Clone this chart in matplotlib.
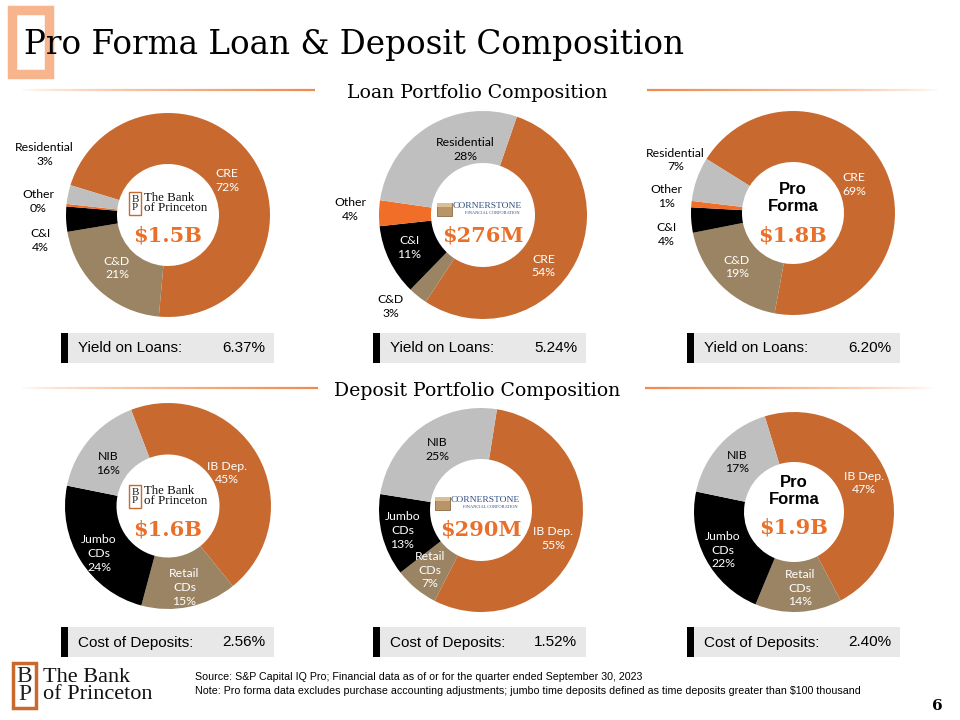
"""
Pro Forma Loan & Deposit Composition - slide recreation
Six donut charts (loans / deposits for Princeton, Cornerstone, Pro Forma)
"""

import matplotlib
matplotlib.use("Agg")
import matplotlib.pyplot as plt
import numpy as np
from matplotlib.collections import LineCollection
from matplotlib.colors import to_rgb
from matplotlib.patches import Rectangle

W, H = 960, 720

ORANGE = "#C86A30"
BRIGHT = "#F06E28"
TAN = "#9B8464"
BLACK = "#000000"
GREY = "#BFBFBF"
VALUE_ORANGE = "#E8702A"
LINE_ORANGE = "#F08A4B"
NAVY = "#2F4F7F"

# ---------------------------------------------------------------- data
loan_categories = ["CRE", "C&D", "C&I", "Other", "Residential"]
loan_colors = [ORANGE, TAN, BLACK, BRIGHT, GREY]
loans_princeton = [72, 21, 4, 0.4, 3]
loans_cornerstone = [54, 3, 11, 4, 28]
loans_pro_forma = [69, 19, 4, 1, 7]

deposit_categories = ["IB Dep.", "Retail\nCDs", "Jumbo\nCDs", "NIB"]
deposit_colors = [ORANGE, TAN, BLACK, GREY]
deposits_princeton = [45, 15, 24, 16]
deposits_cornerstone = [55, 7, 13, 25]
deposits_pro_forma = [47, 14, 22, 17]

loan_totals = ["$1.5B", "$276M", "$1.8B"]
deposit_totals = ["$1.6B", "$290M", "$1.9B"]
yield_on_loans = ["6.37%", "5.24%", "6.20%"]
cost_of_deposits = ["2.56%", "1.52%", "2.40%"]

# ---------------------------------------------------------------- layout
LOAN_LAYOUT = [
    dict(center=(168, 215), r=102, start=163, value_y=236, logo="princeton",
         labels=[(0.58, 0.34), (-0.50, -0.52), (-1.25, -0.25), (-1.27, 0.13), (-1.21, 0.59)]),
    dict(center=(483, 215), r=104, start=71, value_y=236, logo="cornerstone",
         labels=[(0.58, -0.49), (-0.89, -0.88), (-0.71, -0.31), (-1.28, 0.05), (-0.17, 0.63)]),
    dict(center=(793, 213), r=102, start=148, value_y=235, logo="proforma",
         labels=[(0.60, 0.28), (-0.55, -0.53), (-1.24, -0.21), (-1.24, 0.16), (-1.15, 0.52)]),
]
DEPOSIT_LAYOUT = [
    dict(center=(168, 506), r=103, start=111, value_y=529, logo="princeton",
         labels=[(0.57, 0.32), (0.16, -0.79), (-0.67, -0.46), (-0.58, 0.41)]),
    dict(center=(481, 510), r=102, start=81, value_y=530, logo="cornerstone",
         labels=[(0.71, -0.28), (-0.50, -0.59), (-0.77, -0.20), (-0.43, 0.59)]),
    dict(center=(794, 512), r=100, start=107, value_y=528, logo="proforma",
         labels=[(0.70, 0.29), (0.06, -0.76), (-0.71, -0.38), (-0.57, 0.50)]),
]
BOX_X = [61, 373, 687]
BOX_W = 213
LABEL_FONT = "Lato"
SERIF = "DejaVu Serif"
TIMES = "Liberation Serif"
SANS = "Liberation Sans"
NARROW = ["Liberation Sans Narrow", "Liberation Sans"]


def donut(fig, values, colors, categories, lay):
    cx, cy = lay["center"]
    r = lay["r"]
    ax = fig.add_axes([(cx - r) / W, 1 - (cy + r) / H, 2 * r / W, 2 * r / H])
    ax.pie(values, colors=colors, startangle=lay["start"], counterclock=False,
           radius=1, wedgeprops=dict(width=0.5, linewidth=0))
    ax.set_xlim(-1, 1)
    ax.set_ylim(-1, 1)
    for cat, val, col, (lx, ly) in zip(categories, values, colors, lay["labels"]):
        outside = np.hypot(lx, ly) > 1
        tc = "black" if (outside or col == GREY) else "white"
        ax.text(lx, ly, f"{cat}\n{round(val)}%", ha="center", va="center",
                color=tc, fontsize=8.8, family=LABEL_FONT, linespacing=1.3)


def gradient_line(ax, x0, x1, y, fade_left):
    n = 120
    xs = np.linspace(x0, x1, n + 1)
    segs = [[(xs[i], y), (xs[i + 1], y)] for i in range(n)]
    a = np.linspace(0.0, 1.0, n) if fade_left else np.linspace(1.0, 0.0, n)
    rgb = to_rgb(LINE_ORANGE)
    cols = [(rgb[0], rgb[1], rgb[2], v ** 0.7) for v in a]
    ax.add_collection(LineCollection(segs, colors=cols, linewidths=1.6))


def princeton_icon(ax, x0, y0, w, h, lw=1.2, fs=9):
    ax.add_patch(Rectangle((x0, y0), w, h, facecolor="white",
                           edgecolor="#C8692E", linewidth=lw))
    ax.text(x0 + w / 2, y0 + h / 2, "B\nP", ha="center", va="center",
            family=TIMES, fontsize=fs, color="#222222", linespacing=0.78)


def center_content(ax, lay, total):
    cx = lay["center"][0]
    vy = lay["value_y"]
    if lay["logo"] == "princeton":
        princeton_icon(ax, cx - 39, vy - 44, 12, 23, lw=1.0, fs=8)
        ax.text(cx - 24, vy - 33, "The Bank\nof Princeton", ha="left", va="center",
                family=TIMES, fontsize=9.3, color="#111111", linespacing=0.85)
    elif lay["logo"] == "cornerstone":
        ax.add_patch(Rectangle((cx - 46, vy - 33), 15, 13, facecolor="#B89468",
                               edgecolor="#8A6A44", linewidth=0.6))
        ax.add_patch(Rectangle((cx - 46, vy - 33), 15, 4, facecolor="#D9BE96",
                               edgecolor="none"))
        ax.text(cx - 30, vy - 30, "CORNERSTONE", ha="left", va="center",
                family=TIMES, fontsize=6.8, color=NAVY)
        ax.text(cx - 18, vy - 23, "FINANCIAL CORPORATION", ha="left", va="center",
                family=TIMES, fontsize=3.2, color=NAVY)
    else:
        ax.text(cx, vy - 37, "Pro\nForma", ha="center", va="center", family=SANS,
                fontsize=12, fontweight="bold", color="black", linespacing=1.1)
    ax.text(cx, vy, total, ha="center", va="center", family=SERIF,
            fontsize=15, fontweight="bold", color=VALUE_ORANGE)


def stat_box(ax, x, y, label, value):
    ax.add_patch(Rectangle((x, y), BOX_W, 30, facecolor="#E8E8E8", edgecolor="none"))
    ax.add_patch(Rectangle((x, y), 7, 30, facecolor="black", edgecolor="none"))
    ax.text(x + 17, y + 15.5, label, ha="left", va="center", family=SANS,
            fontsize=11, color="black")
    ax.text(x + 204, y + 15.5, value, ha="right", va="center", family=SANS,
            fontsize=11, color="black")


def main():
    fig = plt.figure(figsize=(W / 100, H / 100), dpi=100)
    fig.patch.set_facecolor("white")

    loan_sets = [loans_princeton, loans_cornerstone, loans_pro_forma]
    deposit_sets = [deposits_princeton, deposits_cornerstone, deposits_pro_forma]
    for vals, lay in zip(loan_sets, LOAN_LAYOUT):
        donut(fig, vals, loan_colors, loan_categories, lay)
    for vals, lay in zip(deposit_sets, DEPOSIT_LAYOUT):
        donut(fig, vals, deposit_colors, deposit_categories, lay)

    # overlay in pixel coordinates, drawn on top
    ov = fig.add_axes([0, 0, 1, 1])
    ov.set_xlim(0, W)
    ov.set_ylim(H, 0)
    ov.axis("off")
    ov.patch.set_alpha(0)

    # title
    ov.add_patch(Rectangle((12, 10), 37, 64, facecolor="none",
                           edgecolor="#F7B58E", linewidth=6.8))
    ov.text(24, 45, "Pro Forma Loan & Deposit Composition", ha="left", va="center",
            family=SERIF, fontsize=23.5, color="black")

    # section headers
    ov.text(477, 93, "Loan Portfolio Composition", ha="center", va="center",
            family=SERIF, fontsize=13.6, color="black")
    gradient_line(ov, 20, 315, 90, fade_left=True)
    gradient_line(ov, 647, 940, 90, fade_left=False)
    ov.text(477, 391, "Deposit Portfolio Composition", ha="center", va="center",
            family=SERIF, fontsize=13.6, color="black")
    gradient_line(ov, 20, 318, 388, fade_left=True)
    gradient_line(ov, 645, 935, 388, fade_left=False)

    for lay, total in zip(LOAN_LAYOUT, loan_totals):
        center_content(ov, lay, total)
    for lay, total in zip(DEPOSIT_LAYOUT, deposit_totals):
        center_content(ov, lay, total)

    for x, v in zip(BOX_X, yield_on_loans):
        stat_box(ov, x, 333, "Yield on Loans:", v)
    for x, v in zip(BOX_X, cost_of_deposits):
        stat_box(ov, x, 627, "Cost of Deposits:", v)

    # footer
    princeton_icon(ov, 13, 663, 23, 45, lw=2.5, fs=17)
    ov.text(43, 686, "The Bank\nof Princeton", ha="left", va="center", family=TIMES,
            fontsize=16, color="#111111", linespacing=0.9)
    ov.text(195, 677, "Source: S&P Capital IQ Pro; Financial data as of or for the "
            "quarter ended September 30, 2023", ha="left", va="center",
            family=NARROW, fontsize=7.7, color="black")
    ov.text(195, 691, "Note: Pro forma data excludes purchase accounting adjustments; "
            "jumbo time deposits defined as time deposits greater than $100 thousand",
            ha="left", va="center", family=NARROW, fontsize=7.7, color="black")
    ov.text(937, 706, "6", ha="center", va="center", family=SERIF,
            fontsize=11, fontweight="bold", color="black")

    fig.savefig("out.png", dpi=100)
    plt.close(fig)


if __name__ == "__main__":
    main()
